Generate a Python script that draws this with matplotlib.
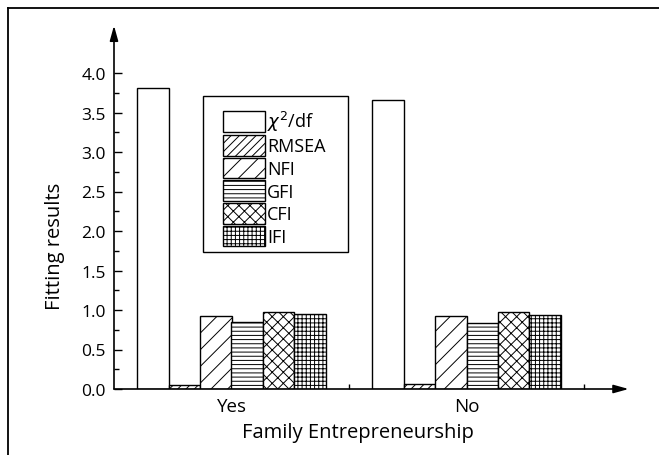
import numpy as np
import matplotlib
matplotlib.use('Agg')
import matplotlib.pyplot as plt
from matplotlib.lines import Line2D
from matplotlib.patches import Rectangle
from matplotlib.ticker import FixedLocator

plt.rcParams['font.family'] = ['Open Sans', 'DejaVu Sans']
plt.rcParams['hatch.linewidth'] = 0.7

groups = ['Yes', 'No']
indices = [r'$\chi^2$/df', 'RMSEA', 'NFI', 'GFI', 'CFI', 'IFI']
values = {
    'Yes': [3.81, 0.05, 0.93, 0.85, 0.98, 0.95],
    'No': [3.66, 0.06, 0.93, 0.84, 0.97, 0.94],
}
hatches = ['', '////', '//', '----', 'xxx', '++++']

W, H = 659, 456
fig = plt.figure(figsize=(W / 100, H / 100), dpi=100)
# axes: x from 0.5 to 2.7, y from 0 to 4.6
ax = fig.add_axes([114 / W, 66 / H, 517 / W, 363.4 / H])
ax.set_xlim(0.5, 2.7)
ax.set_ylim(0, 4.6)

x = np.arange(1, len(groups) + 1)
w = 0.134
for i, lab in enumerate(indices):
    vals = [values[g][i] for g in groups]
    ax.bar(x + (i - 2.5) * w, vals, w, color='white', edgecolor='black',
           linewidth=1.0, hatch=hatches[i], label=lab)

for s in ax.spines.values():
    s.set_visible(False)
arrow = dict(arrowstyle='-|>,head_length=0.9,head_width=0.25',
             color='black', lw=1.2, shrinkA=0, shrinkB=0)
ax.annotate('', xy=(2.69, 0), xytext=(0.5, 0), arrowprops=arrow,
            annotation_clip=False)
ax.annotate('', xy=(0.5, 4.6), xytext=(0.5, 0), arrowprops=arrow,
            annotation_clip=False)

yt = np.arange(0, 4.01, 0.5)
ax.set_yticks(yt)
ax.set_yticklabels([f'{v:.1f}' for v in yt])
ax.yaxis.set_minor_locator(FixedLocator(np.arange(0.25, 4.0, 0.5)))
ax.tick_params(axis='y', which='major', direction='in', length=6, width=1,
               labelsize=12.5, pad=6)
ax.tick_params(axis='y', which='minor', direction='in', length=3.5, width=1)

ax.set_xticks(x)
ax.set_xticklabels(groups)
ax.xaxis.set_minor_locator(FixedLocator([1.5, 2.5]))
ax.tick_params(axis='x', which='major', length=0, labelsize=13.5, pad=6)
ax.tick_params(axis='x', which='minor', direction='in', length=3.5, width=1)

fig.text(55 / W, 1 - 246 / H, 'Fitting results', rotation=90,
         ha='center', va='center', fontsize=14.5)
fig.text(358 / W, 1 - 433 / H, 'Family Entrepreneurship',
         ha='center', va='center', fontsize=14.5)

# legend box drawn by hand, entries placed inside it
def px(xp, yp):
    return (xp - 114) / 517, (390 - yp) / 363.4

x0, y0 = px(203, 253)
x1, y1 = px(348, 97)
ax.add_patch(Rectangle((x0, y0), x1 - x0, y1 - y0, transform=ax.transAxes,
                       facecolor='white', edgecolor='black', lw=1.0,
                       zorder=4, clip_on=False))
leg = ax.legend(loc='upper left', bbox_to_anchor=px(223, 110),
                borderaxespad=0, frameon=False, fontsize=13,
                handlelength=2.33, handleheight=1.4, labelspacing=0.1,
                handletextpad=0.12, borderpad=0)
leg.set_zorder(5)

# outer frame (top and left edges visible)
fig.add_artist(Line2D([8 / W, 1], [1 - 9 / H, 1 - 9 / H],
                      transform=fig.transFigure, color='black', lw=1.3))
fig.add_artist(Line2D([8 / W, 8 / W], [0, 1 - 9 / H],
                      transform=fig.transFigure, color='black', lw=1.3))

fig.savefig('out.png', dpi=100)
